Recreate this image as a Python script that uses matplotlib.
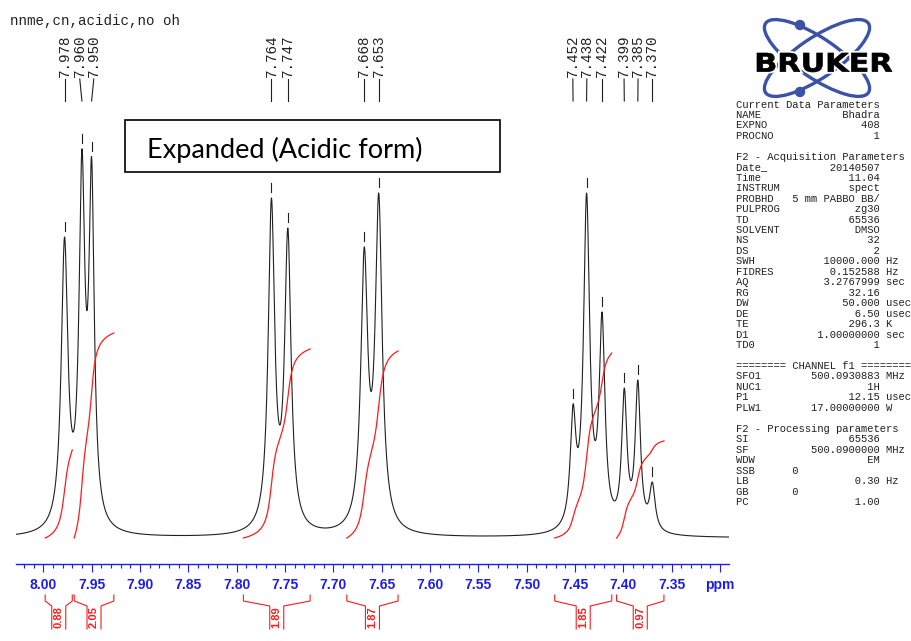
import numpy as np
import matplotlib
matplotlib.use("Agg")
import matplotlib.pyplot as plt
import matplotlib.transforms as mtransforms
from matplotlib.patches import Ellipse, Rectangle, Circle, PathPatch
from matplotlib.textpath import TextPath
from matplotlib.font_manager import FontProperties

W, H = 912, 641

# peaks: position (ppm), apparent height above baseline, half width
peak_ppm = [7.978, 7.960, 7.950, 7.764, 7.747, 7.668, 7.653,
            7.452, 7.438, 7.422, 7.399, 7.385, 7.370]
peak_height = [301, 389, 381, 340, 310, 291, 345,
               134, 345, 226, 150, 158, 56]
peak_hwhm = [0.0041, 0.0036, 0.0033, 0.0040, 0.0040, 0.0043, 0.0043,
             0.0035, 0.0038, 0.0036, 0.0033, 0.0033, 0.0035]

# integral regions (from high to low ppm) and their values
int_start = [7.998, 7.968, 7.793, 7.686, 7.471, 7.407]
int_end = [7.970, 7.927, 7.724, 7.633, 7.412, 7.358]
int_value = [0.88, 2.05, 1.89, 1.87, 1.85, 0.97]

tick_ppm = [8.00, 7.95, 7.90, 7.85, 7.80, 7.75, 7.70, 7.65, 7.60,
            7.55, 7.50, 7.45, 7.40, 7.35, 7.30]
tick_text = ["8.00", "7.95", "7.90", "7.85", "7.80", "7.75", "7.70", "7.65",
             "7.60", "7.55", "7.50", "7.45", "7.40", "7.35", "ppm"]

title = "nnme,cn,acidic,no oh"

params = [
    ("Current Data Parameters", "", ""),
    ("NAME", "Bhadra", ""),
    ("EXPNO", "408", ""),
    ("PROCNO", "1", ""),
    None,
    ("F2 - Acquisition Parameters", "", ""),
    ("Date_", "20140507", ""),
    ("Time", "11.04", ""),
    ("INSTRUM", "spect", ""),
    ("PROBHD", "5 mm PABBO BB/", ""),
    ("PULPROG", "zg30", ""),
    ("TD", "65536", ""),
    ("SOLVENT", "DMSO", ""),
    ("NS", "32", ""),
    ("DS", "2", ""),
    ("SWH", "10000.000", "Hz"),
    ("FIDRES", "0.152588", "Hz"),
    ("AQ", "3.2767999", "sec"),
    ("RG", "32.16", ""),
    ("DW", "50.000", "usec"),
    ("DE", "6.50", "usec"),
    ("TE", "296.3", "K"),
    ("D1", "1.00000000", "sec"),
    ("TD0", "1", ""),
    None,
    ("======== CHANNEL f1 ========", "", ""),
    ("SFO1", "500.0930883", "MHz"),
    ("NUC1", "1H", ""),
    ("P1", "12.15", "usec"),
    ("PLW1", "17.00000000", "W"),
    None,
    ("F2 - Processing parameters", "", ""),
    ("SI", "65536", ""),
    ("SF", "500.0900000", "MHz"),
    ("WDW", "EM", ""),
    ("SSB      0", "", ""),
    ("LB", "0.30", "Hz"),
    ("GB       0", "", ""),
    ("PC", "1.00", ""),
]

blue = "#1c1cf0"
red = "#ff1a1a"
mono = "Liberation Mono"

x0_ppm, x1_ppm = 8.0282, 7.2907
ax_l, ax_r, ax_top, ax_bot = 16, 729, 100, 564
base_px = 538

fig = plt.figure(figsize=(W / 100, H / 100), dpi=100)
fig.patch.set_facecolor("white")
ax = fig.add_axes([ax_l / W, 1 - ax_bot / H, (ax_r - ax_l) / W, (ax_bot - ax_top) / H])
ax.set_xlim(x0_ppm, x1_ppm)
ax.set_ylim(-(ax_bot - base_px), base_px - ax_top)
ppm_per_px = (x0_ppm - x1_ppm) / (ax_r - ax_l)

# pixel-from-top coordinates on the figure
ptop = mtransforms.Affine2D().scale(1.0 / W, -1.0 / H).translate(0, 1) + fig.transFigure
xy_trans = mtransforms.blended_transform_factory(ax.transData, ptop)


def lor(x, c, w):
    return w ** 2 / ((x - c) ** 2 + w ** 2)


pp = np.array(peak_ppm)
ww = np.array(peak_hwhm)
M = lor(pp[:, None], pp[None, :], ww[None, :])
amps = np.linalg.solve(M, np.array(peak_height, float))


def spectrum(x):
    x = np.asarray(x, float)
    return (amps[None, :] * lor(x[:, None], pp[None, :], ww[None, :])).sum(axis=1)


xs = np.linspace(x0_ppm, x1_ppm, 5000)
ax.plot(xs, spectrum(xs), color="#202020", lw=0.8, zorder=3)

# peak top markers
tops = spectrum(pp)
for p, t in zip(peak_ppm, tops):
    ax.plot([p, p], [t + 6, t + 15], color="#202020", lw=0.8)

# integrals
int_scale = 100
for s, e, v in zip(int_start, int_end, int_value):
    xi = np.linspace(s, e, 400)
    yi = spectrum(xi)
    cum = np.concatenate([[0], np.cumsum((yi[1:] + yi[:-1]) / 2)])
    cum = cum / cum[-1] * v * int_scale
    ax.plot(xi, cum, color=red, lw=0.9, zorder=4)

    xc = (s + e) / 2
    g = 7 * ppm_per_px
    for xe, xg in ((s, xc + g), (e, xc - g)):
        ax.plot([xe, xe, xg, xg], [595, 601, 606, 629], color=red, lw=0.8,
                transform=xy_trans, clip_on=False)
    ax.text(xc, 617, f"{v:.2f}", rotation=90, ha="center", va="center",
            color=red, fontsize=8, family="Liberation Sans", fontweight="bold",
            transform=xy_trans, clip_on=False)


# peak labels, spread so they do not overlap
def spread(pos, sep):
    pos = list(pos)
    for _ in range(500):
        moved = False
        for i in range(len(pos) - 1):
            gap = pos[i] - pos[i + 1]
            if gap < sep - 1e-9:
                d = (sep - gap) / 2
                pos[i] += d
                pos[i + 1] -= d
                moved = True
        if not moved:
            break
    return pos


lab_ppm = spread(peak_ppm, 14 * ppm_per_px)
for p, lp in zip(peak_ppm, lab_ppm):
    ax.text(lp, 77, f"{p:.3f}", rotation=90, ha="center", va="bottom",
            family=mono, fontsize=10.3, color="#202020",
            transform=xy_trans, clip_on=False)
    ax.plot([lp, p], [79, 101], color="#202020", lw=0.8,
            transform=xy_trans, clip_on=False)

# axis
for sp in ("left", "right", "top"):
    ax.spines[sp].set_visible(False)
ax.spines["bottom"].set_color(blue)
ax.spines["bottom"].set_linewidth(1.0)
ax.set_yticks([])
ax.set_xticks(tick_ppm)
ax.set_xticklabels(tick_text)
ax.set_xticks(np.round(np.arange(8.02, 7.295, -0.01), 2), minor=True)
ax.tick_params(axis="x", which="major", direction="out", length=5.8, width=0.8,
               color=blue, labelcolor=blue, pad=4.2)
ax.tick_params(axis="x", which="minor", direction="out", length=2.9, width=0.8,
               color=blue)
for lab in ax.get_xticklabels():
    lab.set_fontfamily("Liberation Sans")
    lab.set_fontweight("bold")
    lab.set_fontsize(10)
ax.patch.set_alpha(0)

# title
fig.text(10 / W, 1 - 25 / H, title, family=mono, fontsize=10.2, va="baseline",
         color="#202020")

# text box
fig.add_artist(Rectangle((125, 120), 375, 52, transform=ptop, facecolor="white",
                         edgecolor="black", lw=1.2, zorder=5))
fig.text(147 / W, 1 - 150 / H, "Expanded (Acidic form)", family="Lato",
         fontsize=19.5, va="center", color="black", zorder=6)

# parameter listing
for n, row in enumerate(params):
    if row is None:
        continue
    name, val, unit = row
    if val:
        line = name + val.rjust(23 - len(name))
    else:
        line = name
    if unit:
        line += " " + unit
    fig.text(736 / W, 1 - (107.5 + 10.46 * n) / H, line, family=mono,
             fontsize=7.6, va="baseline", color="#202020")

# logo
logo_blue = "#3b52a8"
cx, cy = 817, 58
for ang in (34, -34):
    fig.add_artist(Ellipse((cx, cy), 124, 40, angle=ang, transform=ptop,
                           fill=False, edgecolor=logo_blue, lw=2.4))
for dx, dy in ((800, 25), (800, 92)):
    fig.add_artist(Circle((dx, dy), 4.5, transform=ptop, color=logo_blue))
tp = TextPath((0, 0), "BRUKER", size=1, prop=FontProperties(family="DejaVu Sans", weight="bold"))
ext = tp.get_extents()
tr = mtransforms.Affine2D().translate(-ext.x0, -ext.y0).scale(135 / ext.width, -19 / ext.height).translate(757, 72)
path = tr.transform_path(tp)
fig.add_artist(PathPatch(path, transform=ptop, facecolor="white", edgecolor="white", lw=3))
fig.add_artist(PathPatch(path, transform=ptop, facecolor="black", edgecolor="black", lw=0.5))

fig.savefig("out.png", dpi=100, facecolor="white")
